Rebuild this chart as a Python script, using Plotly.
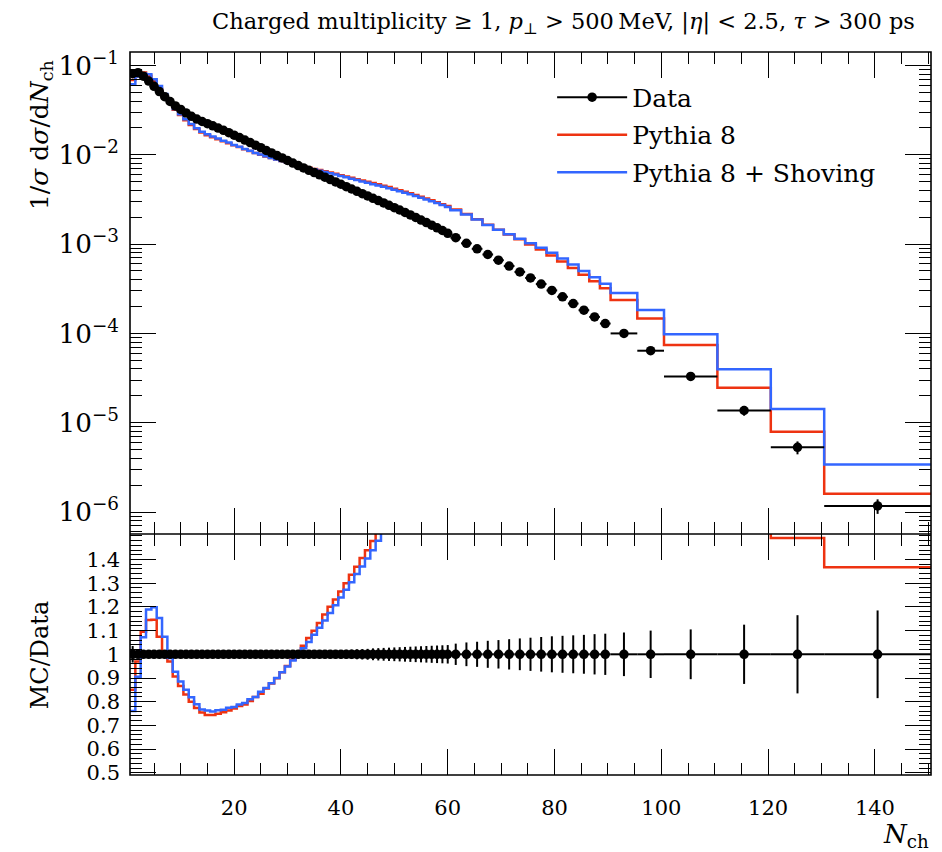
import plotly.graph_objects as go

# ---------------- data ----------------
# bin edges of N_ch: unit bins up to 60.5, 2-wide to 90.5, then wide bins
bin_edges = [0.5 + i for i in range(61)] + [62.5, 64.5, 66.5, 68.5, 70.5, 72.5, 74.5, 76.5,
                                             78.5, 80.5, 82.5, 84.5, 86.5, 88.5, 90.5,
                                             95.5, 100.5, 110.5, 120.5, 130.5, 150.5]

data_values = [0.081, 0.083, 0.076, 0.067, 0.0585, 0.051, 0.0447, 0.0395, 0.0352, 0.0322,
               0.0294, 0.0270, 0.0251, 0.0236, 0.0223, 0.0211, 0.0199, 0.0188, 0.0177, 0.0166,
               0.0156, 0.0146, 0.0137, 0.0128, 0.0120, 0.0112, 0.0105, 0.00985, 0.00922, 0.00863,
               0.00808, 0.00758, 0.00713, 0.00671, 0.00632, 0.00596, 0.00561, 0.00528, 0.00497, 0.00468,
               0.00440, 0.00414, 0.00390, 0.00367, 0.00346, 0.00326, 0.00307, 0.00289, 0.00272, 0.00256,
               0.00241, 0.00226, 0.00212, 0.00199, 0.00186, 0.00174, 0.00163, 0.00152, 0.00142, 0.00132,
               1.18e-3, 1.02e-3, 8.85e-4, 7.65e-4, 6.6e-4, 5.68e-4, 4.88e-4, 4.18e-4, 3.57e-4, 3.03e-4,
               2.57e-4, 2.16e-4, 1.82e-4, 1.53e-4, 1.29e-4,
               1.0e-4, 6.4e-5, 3.3e-5, 1.37e-5, 5.3e-6, 1.17e-6]

data_rel_err = [0.035, 0.013, 0.012, 0.012, 0.012, 0.012, 0.012, 0.012, 0.012, 0.012,
                0.012, 0.012, 0.012, 0.012, 0.012, 0.012, 0.012, 0.012, 0.012, 0.012,
                0.012, 0.012, 0.012, 0.012, 0.013, 0.013, 0.013, 0.013, 0.014, 0.014,
                0.015, 0.015, 0.015, 0.016, 0.016, 0.016, 0.017, 0.017, 0.018, 0.018,
                0.019, 0.020, 0.021, 0.022, 0.023, 0.025, 0.026, 0.027, 0.028, 0.029,
                0.030, 0.031, 0.032, 0.033, 0.034, 0.035, 0.036, 0.037, 0.038, 0.039,
                0.045, 0.050, 0.053, 0.057, 0.060, 0.064, 0.067, 0.070, 0.073, 0.076,
                0.078, 0.080, 0.082, 0.085, 0.087,
                0.092, 0.100, 0.105, 0.125, 0.165, 0.185]

pythia8 = [0.0689, 0.0805, 0.0832, 0.0767, 0.0670, 0.0548, 0.0445, 0.0383, 0.0319, 0.0279,
           0.0244, 0.0216, 0.0194, 0.0178, 0.0166, 0.0157, 0.0149, 0.0142, 0.0135, 0.0128,
           0.0122, 0.0115, 0.0110, 0.0105, 0.0100, 0.00958, 0.00921, 0.00885, 0.00852, 0.00820,
           0.00789, 0.00762, 0.00739, 0.00717, 0.00695, 0.00675, 0.00655, 0.00634, 0.00612, 0.00592,
           0.00572, 0.00553, 0.00534, 0.00516, 0.00498, 0.00482, 0.00467, 0.00451, 0.00435, 0.00418,
           0.00402, 0.00386, 0.00370, 0.00355, 0.00339, 0.00324, 0.00309, 0.00295, 0.00280, 0.00267,
           0.00244, 0.00217, 0.00190, 0.00165, 0.00145, 0.00128, 0.00113, 9.9e-4, 8.7e-4, 7.45e-4,
           6.4e-4, 5.4e-4, 4.55e-4, 3.85e-4, 3.2e-4,
           2.37e-4, 1.47e-4, 7.4e-5, 2.47e-5, 7.9e-6, 1.6e-6]

pythia8_shoving = [0.0616, 0.0751, 0.0815, 0.0797, 0.0701, 0.0588, 0.0480, 0.0389, 0.0326, 0.0285,
                   0.0250, 0.0221, 0.0198, 0.0181, 0.0170, 0.0160, 0.0152, 0.0144, 0.0137, 0.0129,
                   0.0123, 0.0116, 0.0111, 0.0105, 0.0101, 0.00961, 0.00922, 0.00887, 0.00852, 0.00819,
                   0.00787, 0.00758, 0.00731, 0.00706, 0.00684, 0.00663, 0.00641, 0.00620, 0.00600, 0.00580,
                   0.00560, 0.00540, 0.00522, 0.00503, 0.00486, 0.00469, 0.00454, 0.00439, 0.00423, 0.00407,
                   0.00391, 0.00376, 0.00361, 0.00346, 0.00331, 0.00316, 0.00302, 0.00288, 0.00274, 0.00261,
                   0.00240, 0.00214, 0.00188, 0.00164, 0.00145, 0.00129, 0.00115, 0.00102, 9.1e-4, 8.0e-4,
                   6.9e-4, 5.9e-4, 5.0e-4, 4.25e-4, 3.6e-4,
                   2.83e-4, 1.83e-4, 9.8e-5, 3.96e-5, 1.42e-5, 3.4e-6]

title_text = ("Charged multiplicity \u2265 1, <i>p</i><sub>\u22a5</sub> > 500\u2009MeV, "
              "|<i>\u03b7</i>| < 2.5, <i>\u03c4</i> > 300 ps")
ratio_ticks = [0.5, 0.6, 0.7, 0.8, 0.9, 1.0, 1.1, 1.2, 1.3, 1.4]
ratio_ticktext = ["0.5", "0.6", "0.7", "0.8", "0.9", "1", "1.1", "1.2", "1.3", "1.4"]

# ---------------- derived ----------------
centers = [(a + b) / 2 for a, b in zip(bin_edges[:-1], bin_edges[1:])]
halfw = [(b - a) / 2 for a, b in zip(bin_edges[:-1], bin_edges[1:])]
data_err = [v * e for v, e in zip(data_values, data_rel_err)]
ratio_p8 = [m / d for m, d in zip(pythia8, data_values)]
ratio_sh = [m / d for m, d in zip(pythia8_shoving, data_values)]

RED = "#EE3311"
BLUE = "#3366FF"
FONT = "DejaVu Serif"

fig = go.Figure()


def step(values):
    return list(values) + [values[-1]]


# top panel
fig.add_trace(go.Scatter(x=bin_edges, y=step(pythia8), mode="lines", line_shape="hv",
                         line=dict(color=RED, width=2.5), name="Pythia 8", showlegend=False,
                         xaxis="x", yaxis="y"))
fig.add_trace(go.Scatter(x=bin_edges, y=step(pythia8_shoving), mode="lines", line_shape="hv",
                         line=dict(color=BLUE, width=2.5), name="Pythia 8 + Shoving", showlegend=False,
                         xaxis="x", yaxis="y"))
fig.add_trace(go.Scatter(x=centers, y=data_values, mode="markers",
                         marker=dict(color="black", size=9.5),
                         error_y=dict(type="data", array=data_err, color="black", thickness=2, width=0),
                         error_x=dict(type="data", array=halfw, color="black", thickness=2, width=0),
                         name="Data", showlegend=False, xaxis="x", yaxis="y"))

# legend entries
fig.add_trace(go.Scatter(x=[None], y=[None], mode="lines+markers", name="Data",
                         line=dict(color="black", width=2), marker=dict(color="black", size=9.5),
                         legendgroup="a", xaxis="x", yaxis="y"))
fig.add_trace(go.Scatter(x=[None], y=[None], mode="lines", name="Pythia 8",
                         line=dict(color=RED, width=2.5), legendgroup="b", xaxis="x", yaxis="y"))
fig.add_trace(go.Scatter(x=[None], y=[None], mode="lines", name="Pythia 8 + Shoving",
                         line=dict(color=BLUE, width=2.5), legendgroup="c", xaxis="x", yaxis="y"))

# ratio panel
fig.add_trace(go.Scatter(x=bin_edges, y=step(ratio_p8), mode="lines", line_shape="hv",
                         line=dict(color=RED, width=2.5), showlegend=False, xaxis="x2", yaxis="y2"))
fig.add_trace(go.Scatter(x=bin_edges, y=step(ratio_sh), mode="lines", line_shape="hv",
                         line=dict(color=BLUE, width=2.5), showlegend=False, xaxis="x2", yaxis="y2"))
fig.add_trace(go.Scatter(x=centers, y=[1.0] * len(centers), mode="markers",
                         marker=dict(color="black", size=9.5),
                         error_y=dict(type="data", array=data_rel_err, color="black", thickness=2, width=0),
                         error_x=dict(type="data", array=halfw, color="black", thickness=2, width=0),
                         showlegend=False, xaxis="x2", yaxis="y2"))

split = 241 / 723

xcommon = dict(range=[0.5, 150.5], showgrid=False, zeroline=False, showline=False,
               mirror="allticks", ticks="inside", ticklen=26, tickwidth=1.2,
               tickcolor="black", tick0=0, dtick=20,
               minor=dict(ticks="inside", ticklen=12, dtick=5, tick0=0, tickcolor="black",
                          tickwidth=1.2, showgrid=False))

fig.update_layout(
    width=934, height=844,
    margin=dict(l=122, r=11, t=44, b=77),
    paper_bgcolor="white", plot_bgcolor="white",
    font=dict(family=FONT, color="black", size=21),
    xaxis=dict(**xcommon, domain=[0, 1], anchor="y", showticklabels=False),
    yaxis=dict(type="log", domain=[split, 1], anchor="x", range=[-6.246, -0.849],
               showgrid=False, zeroline=False, showline=False,
               mirror="allticks", ticks="inside", ticklen=26, tickwidth=1.2, tickcolor="black",
               dtick=1, exponentformat="power", tickfont=dict(size=21), ticklabelstandoff=10,
               minor=dict(ticks="inside", ticklen=12, dtick="D1", tickcolor="black", tickwidth=1.2,
                          showgrid=False)),
    xaxis2=dict(**xcommon, domain=[0, 1], anchor="y2", showticklabels=True,
                tickfont=dict(size=21), ticklabelstandoff=18),
    yaxis2=dict(domain=[0, split], anchor="x2", range=[0.4907, 1.5076],
                showgrid=False, zeroline=False, showline=False,
                mirror="allticks", ticks="inside", ticklen=26, tickwidth=1.2, tickcolor="black",
                tickvals=ratio_ticks, ticktext=ratio_ticktext, tickfont=dict(size=21),
                ticklabelstandoff=9,
                minor=dict(ticks="inside", ticklen=12, dtick=0.02, tick0=0.5, tickcolor="black",
                           tickwidth=1.2, showgrid=False)),
    legend=dict(x=0.527, y=0.969, xanchor="left", yanchor="top", bgcolor="rgba(0,0,0,0)",
                font=dict(size=25, family=FONT), tracegroupgap=2, itemwidth=70),
    shapes=[
        dict(type="rect", xref="paper", yref="paper", x0=0, x1=1, y0=0, y1=1,
             line=dict(color="black", width=1.6), layer="above"),
        dict(type="line", xref="paper", yref="paper", x0=0, x1=1, y0=split, y1=split,
             line=dict(color="black", width=1.6), layer="above"),
    ],
    annotations=[
        dict(text=title_text, xref="paper", yref="paper", x=0.983, y=1.040,
             xanchor="right", yanchor="middle", showarrow=False, font=dict(size=22.5)),
        dict(text="1/<i>\u03c3</i> d<i>\u03c3</i>/d<i>N</i><sub>ch</sub>", xref="paper", yref="paper",
             x=-0.112, y=0.992, xanchor="center", yanchor="top", textangle=-90, showarrow=False,
             font=dict(size=25)),
        dict(text="MC/Data", xref="paper", yref="paper", x=-0.112, y=0.166,
             xanchor="center", yanchor="middle", textangle=-90, showarrow=False,
             font=dict(size=24)),
        dict(text="<i>N</i><sub>ch</sub>", xref="paper", yref="paper", x=1.0, y=-0.083,
             xanchor="right", yanchor="middle", showarrow=False, font=dict(size=26)),
    ],
)

fig.write_html("out.html")
